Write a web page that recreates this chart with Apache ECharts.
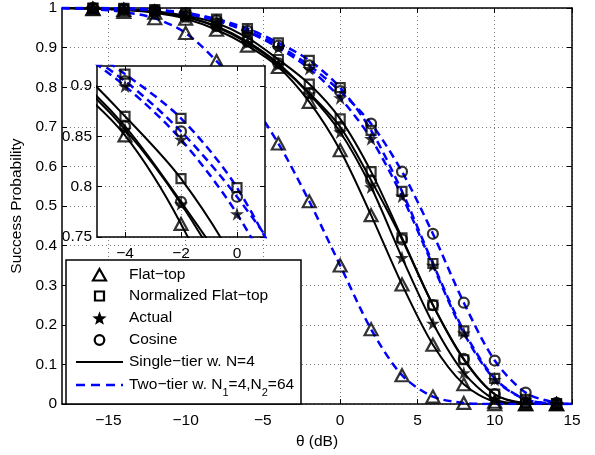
<!DOCTYPE html>
<html><head><meta charset="utf-8">
<script src="https://cdn.jsdelivr.net/npm/echarts@6.0.0/dist/echarts.min.js"></script>
<style>html,body{margin:0;padding:0;background:#fff}#c{width:595px;height:455px}</style>
</head><body><div id="c"></div>
<script>
// ---- data ----
const thetaDb = [-18, -16, -14, -12, -10, -8, -6, -4, -2, 0, 2, 4, 6, 8, 10, 12, 14, 15];
// single-tier, N=4 (black solid)
const singleFlatTop   = [1, 0.998, 0.995, 0.988, 0.973, 0.945, 0.905, 0.851, 0.763, 0.641, 0.477, 0.302, 0.150, 0.050, 0.006, 0.000, 0, 0];
const singleNormFlat  = [1, 0.999, 0.997, 0.992, 0.981, 0.962, 0.925, 0.870, 0.808, 0.720, 0.587, 0.420, 0.250, 0.112, 0.025, 0.002, 0, 0];
const singleActual    = [1, 0.999, 0.996, 0.990, 0.977, 0.952, 0.912, 0.857, 0.783, 0.687, 0.548, 0.370, 0.204, 0.079, 0.012, 0.001, 0, 0];
const singleCosine    = [1, 0.999, 0.996, 0.990, 0.978, 0.954, 0.915, 0.860, 0.785, 0.700, 0.565, 0.416, 0.250, 0.114, 0.025, 0.003, 0, 0];
// two-tier, N1=4, N2=64 (blue dashed)
const twoFlatTop      = [1, 0.997, 0.990, 0.974, 0.937, 0.866, 0.775, 0.658, 0.512, 0.350, 0.189, 0.073, 0.019, 0.003, 0, 0, 0, 0];
const twoNormFlat     = [1, 1.000, 0.999, 0.996, 0.988, 0.972, 0.948, 0.912, 0.868, 0.799, 0.691, 0.537, 0.355, 0.185, 0.065, 0.012, 0.001, 0];
const twoActual       = [1, 1.000, 0.998, 0.995, 0.986, 0.968, 0.940, 0.900, 0.847, 0.773, 0.670, 0.525, 0.350, 0.179, 0.062, 0.012, 0.001, 0];
const twoCosine       = [1, 1.000, 0.998, 0.995, 0.986, 0.969, 0.942, 0.905, 0.855, 0.790, 0.708, 0.587, 0.430, 0.256, 0.110, 0.029, 0.003, 0];

const mainXTicks = [-15, -10, -5, 0, 5, 10, 15];
const insetXTicks = [-4, -2, 0];
const insetYTicks = [0.75, 0.8, 0.85, 0.9];
const legendNames = ['Flat\u2212top', 'Normalized Flat\u2212top', 'Actual', 'Cosine', 'Single\u2212tier w. N=4'];

// ---- styling ----
const FONT = '"Liberation Sans", Arial, Helvetica, sans-serif';
const FS = 15.5;
const BLUE = '#0000ff';
const STAR = 'path://M50 0 L61.2 34.5 L97.6 34.5 L68.2 55.9 L79.4 90.5 L50 69.1 L20.6 90.5 L31.8 55.9 L2.4 34.5 L38.8 34.5 Z';
const markers = {
  flat:   {symbol: 'triangle', symbolSize: [13, 12], itemStyle: {color: 'rgba(255,255,255,0)', borderColor: '#000', borderWidth: 2.2}},
  norm:   {symbol: 'rect', symbolSize: 9, itemStyle: {color: 'rgba(255,255,255,0)', borderColor: '#000', borderWidth: 2.2}},
  actual: {symbol: STAR, symbolSize: 14, itemStyle: {color: '#000', borderWidth: 0}},
  cosine: {symbol: 'circle', symbolSize: 10, itemStyle: {color: 'rgba(255,255,255,0)', borderColor: '#000', borderWidth: 2.2}}
};
const curves = [
  {v: singleFlatTop, m: 'flat', two: false},
  {v: singleNormFlat, m: 'norm', two: false},
  {v: singleActual, m: 'actual', two: false},
  {v: singleCosine, m: 'cosine', two: false},
  {v: twoFlatTop, m: 'flat', two: true},
  {v: twoNormFlat, m: 'norm', two: true},
  {v: twoActual, m: 'actual', two: true},
  {v: twoCosine, m: 'cosine', two: true}
];
const minus = v => String(v).replace('-', '\u2212');
const lbl = {color: '#000', fontFamily: FONT, fontSize: FS};
const dotted = {show: true, lineStyle: {color: '#7a7a7a', type: [1, 3], width: 1}};
const axLine = {show: true, onZero: false, lineStyle: {color: '#000', width: 1.5}};

function xAx(grid, pos, min, max, ticks, showLabel, z) {
  return {
    gridIndex: grid, type: 'value', position: pos, min: min, max: max, z: z,
    axisLine: axLine,
    axisTick: {show: true, inside: true, length: 5, customValues: ticks, lineStyle: {color: '#000', width: 1}},
    axisLabel: Object.assign({show: showLabel, margin: 9, customValues: ticks, formatter: minus}, lbl),
    splitLine: showLabel ? dotted : {show: false}
  };
}
function yAx(grid, pos, min, max, ticks, interval, showLabel, z) {
  const a = {
    gridIndex: grid, type: 'value', position: pos, min: min, max: max, z: z,
    axisLine: axLine,
    axisTick: {show: true, inside: true, length: 5, lineStyle: {color: '#000', width: 1}},
    axisLabel: Object.assign({show: showLabel, margin: 5}, lbl),
    splitLine: showLabel ? dotted : {show: false}
  };
  if (ticks) { a.axisTick.customValues = ticks; a.axisLabel.customValues = ticks; }
  else a.interval = interval;
  return a;
}

const xAxes = [
  Object.assign(xAx(0, 'bottom', -18, 15, mainXTicks, true, 0), {
    name: '\u03b8 (dB)', nameLocation: 'middle', nameGap: 29, nameTextStyle: lbl}),
  xAx(0, 'top', -18, 15, mainXTicks, false, 0),
  xAx(1, 'bottom', -5, 1, insetXTicks, true, 11),
  xAx(1, 'top', -5, 1, insetXTicks, false, 11)
];
const yAxes = [
  Object.assign(yAx(0, 'left', 0, 1, null, 0.1, true, 0), {
    name: 'Success Probability', nameLocation: 'middle', nameGap: 33, nameTextStyle: lbl}),
  yAx(0, 'right', 0, 1, null, 0.1, false, 0),
  yAx(1, 'left', 0.75, 0.92, insetYTicks, null, true, 11),
  yAx(1, 'right', 0.75, 0.92, insetYTicks, null, false, 11)
];

const series = [];
[[0, 0, 2], [2, 2, 12]].forEach(([xi, yi, zb]) => {
  curves.forEach(c => {
    series.push({
      type: 'line', xAxisIndex: xi, yAxisIndex: yi, z: zb + (c.two ? 1 : 0),
      data: thetaDb.map((x, i) => [x, c.v[i]]),
      symbol: 'none', smooth: 0.3, silent: true, animation: false,
      lineStyle: c.two ? {color: BLUE, width: 2.5, type: [8, 5]} : {color: '#000', width: 2}
    });
  });
  curves.forEach(c => {
    const mk = markers[c.m];
    series.push({
      type: 'scatter', xAxisIndex: xi, yAxisIndex: yi, z: zb + 3,
      data: thetaDb.slice(1, -1).map((x, i) => [x, c.v[i + 1]]),
      symbol: mk.symbol, symbolSize: mk.symbolSize, itemStyle: mk.itemStyle,
      silent: true, animation: false
    });
  });
});

// legend drawn as graphic (box with marker glyphs, line samples and texts)
function starPts(cx, cy, R, r) {
  const p = [];
  for (let k = 0; k < 10; k++) {
    const a = -Math.PI / 2 + k * Math.PI / 5, rr = k % 2 ? r : R;
    p.push([cx + rr * Math.cos(a), cy + rr * Math.sin(a)]);
  }
  return p;
}
const LX = 99.5, rowY = [275, 296, 318, 340, 362, 385];
const hollow = {fill: 'none', stroke: '#000', lineWidth: 2.2};
const graphic = [
  {type: 'rect', z: 20, shape: {x: 66, y: 260, width: 235, height: 144}, style: {fill: '#fff', stroke: '#000', lineWidth: 1.5}},
  {type: 'polygon', z: 21, shape: {points: [[LX, rowY[0] - 6], [LX + 6.5, rowY[0] + 5.5], [LX - 6.5, rowY[0] + 5.5]]}, style: hollow},
  {type: 'rect', z: 21, shape: {x: LX - 4.5, y: rowY[1] - 4.5, width: 9, height: 9}, style: hollow},
  {type: 'polygon', z: 21, shape: {points: starPts(LX, rowY[2] + 0.8, 7.5, 3.1)}, style: {fill: '#000'}},
  {type: 'circle', z: 21, shape: {cx: LX, cy: rowY[3], r: 4.8}, style: hollow},
  {type: 'line', z: 21, shape: {x1: 76, y1: rowY[4], x2: 123, y2: rowY[4]}, style: {stroke: '#000', lineWidth: 2.2}},
  {type: 'line', z: 21, shape: {x1: 76, y1: rowY[5], x2: 123, y2: rowY[5]}, style: {stroke: BLUE, lineWidth: 2.5, lineDash: [9, 6]}}
];
legendNames.forEach((t, i) => graphic.push({type: 'text', z: 21, x: 129, y: rowY[i],
  style: {text: t, fontFamily: FONT, fontSize: FS, fill: '#000', verticalAlign: 'middle'}}));
graphic.push({type: 'text', z: 21, x: 129, y: rowY[5],
  style: {text: 'Two\u2212tier w. N{s|1}=4,N{s|2}=64', fontFamily: FONT, fontSize: FS, fill: '#000', verticalAlign: 'middle',
    rich: {s: {fontFamily: FONT, fontSize: 11, fill: '#000', verticalAlign: 'bottom', lineHeight: 26}}}});

const chart = echarts.init(document.getElementById('c'), null, {renderer: 'canvas'});
chart.setOption({
  animation: false,
  backgroundColor: '#fff',
  grid: [
    {left: 62, right: 23, top: 8, bottom: 47, show: false},
    {left: 97, top: 66, width: 168, height: 171, show: true, backgroundColor: '#fff', borderWidth: 0, z: 10}
  ],
  xAxis: xAxes,
  yAxis: yAxes,
  series: series,
  graphic: graphic
});
</script></body></html>
